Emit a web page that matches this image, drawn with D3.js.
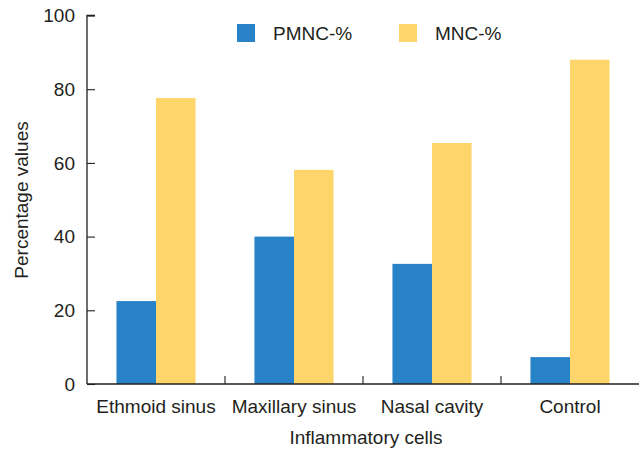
<!DOCTYPE html>
<html><head><meta charset="utf-8">
<script src="https://cdn.jsdelivr.net/npm/d3@7/dist/d3.min.js"></script>
<style>body{margin:0;background:#fff}svg{display:block}text{font-family:"Liberation Sans",Arial,Helvetica,sans-serif;fill:#231f20}</style>
</head><body><svg id="c" width="642" height="450"></svg>
<script>
const categories = ["Ethmoid sinus", "Maxillary sinus", "Nasal cavity", "Control"];
const seriesNames = ["PMNC-%", "MNC-%"];
const pmncValues = [22.5, 40, 32.6, 7.3];
const mncValues = [77.6, 58.1, 65.4, 88];
const yTicks = [0, 20, 40, 60, 80, 100];
const colors = ["#2882c8", "#fdd56a"];
const xTitle = "Inflammatory cells";
const yTitle = "Percentage values";

const svg = d3.select("#c");
const mLeft = 87, mRight = 639, mTop = 15.5, mBottom = 384;
const fs = 19;
const x0 = d3.scaleBand().domain(categories).range([mLeft, mRight]).padding(0);
const x1 = d3.scaleBand().domain(seriesNames).range([0, x0.bandwidth()]).paddingInner(0).paddingOuter(0.745);
const y = d3.scaleLinear().domain([0, 100]).range([mBottom, mTop]);
const color = d3.scaleOrdinal().domain(seriesNames).range(colors);

const rows = categories.map((c, i) => ({cat: c, vals: [pmncValues[i], mncValues[i]]}));

const g = svg.append("g");
g.selectAll("g.grp").data(rows).enter().append("g")
  .attr("transform", d => `translate(${x0(d.cat)},0)`)
  .selectAll("rect").data(d => d.vals.map((v, j) => ({s: seriesNames[j], v})))
  .enter().append("rect")
  .attr("x", d => x1(d.s))
  .attr("width", x1.bandwidth())
  .attr("y", d => y(d.v))
  .attr("height", d => y(0) - y(d.v))
  .attr("fill", d => color(d.s));

// y axis
const yAxis = d3.axisRight(y).tickValues(yTicks).tickSize(8).tickFormat("");
const ya = svg.append("g").attr("transform", `translate(${mLeft},0)`).call(yAxis);
ya.select(".domain").attr("d", `M8,${mTop}H0V${mBottom}`).attr("stroke", "#231f20").attr("stroke-width", 1.3);
ya.selectAll(".tick line").attr("stroke", "#231f20").attr("stroke-width", 1.1);
svg.append("g").selectAll("text").data(yTicks).enter().append("text")
  .attr("x", 75).attr("y", d => y(d)).attr("dy", "0.35em")
  .attr("text-anchor", "end").attr("font-size", fs).text(d => d);

// x axis
const xa = svg.append("g").attr("transform", `translate(0,${mBottom})`)
  .call(d3.axisBottom(x0).tickSize(0).tickFormat(""));
xa.select(".domain").attr("d", `M${mLeft},0H${mRight}`).attr("stroke", "#231f20").attr("stroke-width", 1.3);
xa.selectAll(".tick").remove();
const seps = categories.slice(1).map(c => x0(c));
xa.selectAll("line.sep").data(seps).enter().append("line")
  .attr("x1", d => d).attr("x2", d => d).attr("y1", 0).attr("y2", -8)
  .attr("stroke", "#231f20").attr("stroke-width", 1.1);
svg.append("g").selectAll("text").data(categories).enter().append("text")
  .attr("x", d => x0(d) + x0.bandwidth() / 2).attr("y", 413)
  .attr("text-anchor", "middle").attr("font-size", fs).text(d => d);

svg.append("text").attr("x", 366).attr("y", 444)
  .attr("text-anchor", "middle").attr("font-size", fs).text(xTitle);
svg.append("text").attr("transform", `translate(28,200) rotate(-90)`)
  .attr("text-anchor", "middle").attr("font-size", fs).text(yTitle);

// legend
const legX = [237, 399];
const leg = svg.append("g").selectAll("g").data(seriesNames).enter().append("g")
  .attr("transform", (d, i) => `translate(${legX[i]},24)`);
leg.append("rect").attr("width", 18).attr("height", 18).attr("fill", d => color(d));
leg.append("text").attr("x", 36).attr("y", 16).attr("font-size", fs).text(d => d);
</script></body></html>
